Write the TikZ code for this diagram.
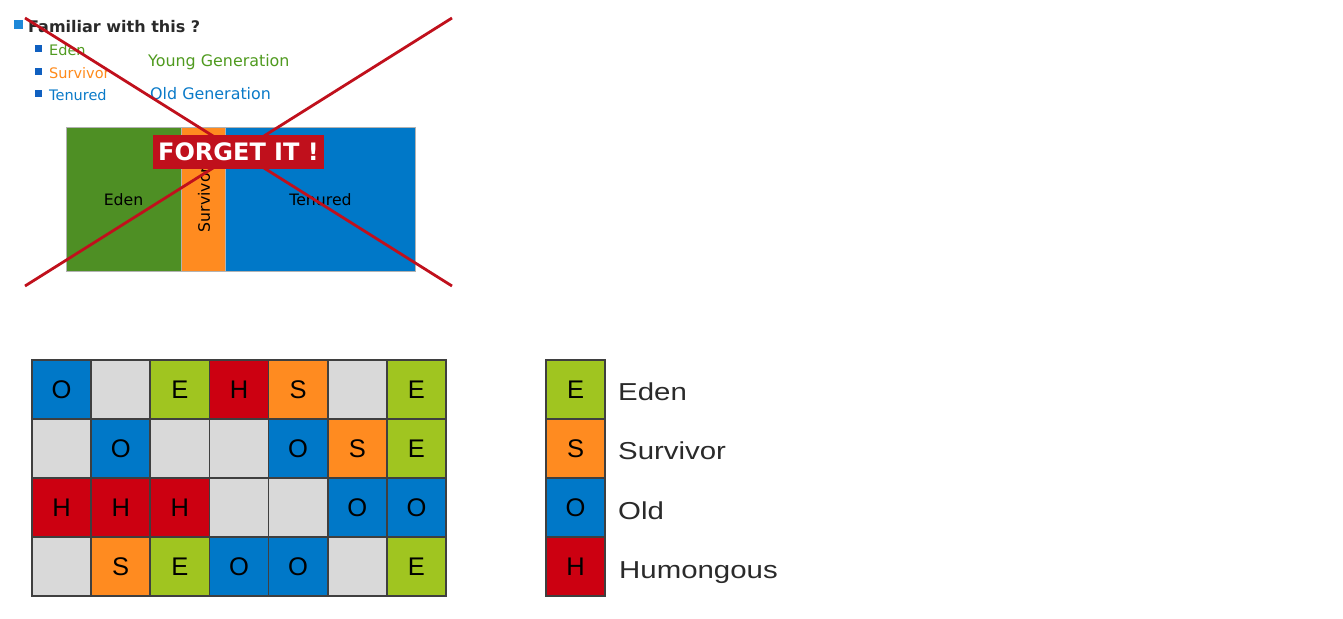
\documentclass[tikz,border=0pt]{standalone}
\usepackage{fontspec}
\setmainfont{DejaVu Sans}
\newfontfamily\lib{Liberation Sans}
\definecolor{cE}{HTML}{A0C520}
\definecolor{cS}{HTML}{FF8B20}
\definecolor{cO}{HTML}{0078C8}
\definecolor{cH}{HTML}{CC0011}
\definecolor{cN}{HTML}{D9D9D9}
\definecolor{tgreen}{HTML}{4E8F24}
\definecolor{ygreen}{HTML}{4F9A1F}
\definecolor{torange}{HTML}{FF8A1A}
\definecolor{tblue}{HTML}{0A7AC8}
\definecolor{bul}{HTML}{1060C0}
\definecolor{bultop}{HTML}{1E88D8}
\definecolor{xred}{HTML}{C0101C}
\definecolor{dark}{HTML}{2A2A2A}
\begin{document}
\begin{tikzpicture}[x=1pt,y=-1pt,
  cell/.style={draw=dark!90, line width=1.6pt, minimum width=59.14pt, minimum height=59pt, inner sep=0pt,
    font=\lib\fontsize{25.5}{25.5}\selectfont, text=black},
  cE/.style={cell, fill=cE}, cS/.style={cell, fill=cS}, cO/.style={cell, fill=cO},
  cH/.style={cell, fill=cH}, cN/.style={cell, fill=cN},
  leg/.style={anchor=base west, inner sep=0pt, font=\lib\fontsize{24.5}{24.5}\selectfont, text=dark},
  bullet/.style={fill=bul, minimum size=7pt, inner sep=0pt},
  sub/.style={anchor=base west, inner sep=0pt, font=\fontsize{14.5}{14.5}\selectfont},
  gen/.style={anchor=base west, inner sep=0pt, font=\fontsize{15.9}{16}\selectfont},
  region/.style={draw=gray!60, line width=0.5pt, inner sep=0pt, font=\fontsize{15.7}{16}\selectfont, text=black},
  xline/.style={draw=xred, line width=2.8pt}
]
\useasboundingbox (0,0) rectangle (1343,618);

% ---- top part ----
\node[fill=bultop, minimum size=9pt, inner sep=0pt] (b0) at (18.5,24.5) {};
\node[anchor=base west, inner sep=0pt, font=\bfseries\fontsize{16}{16}\selectfont, text=dark] (title) at (28,32.5) {Familiar with this ?};
\node[bullet] (b1) at (38.8,49) {};
\node[bullet] (b2) at (38.8,71.5) {};
\node[bullet] (b3) at (38.8,93.5) {};
\node[sub, text=ygreen] (teden) at (49,55.5) {Eden};
\node[sub, text=torange] (tsurv) at (49,78) {Survivor};
\node[sub, text=tblue] (tten) at (49,100) {Tenured};
\node[gen, text=ygreen] (young) at (148,66.5) {Young Generation};
\node[gen, text=tblue] (old) at (150,99.5) {Old Generation};

\node[region, fill=tgreen, minimum width=115pt, minimum height=144pt] (reden) at (123.5,199.5) {Eden};
\node[region, fill=cS, minimum width=44pt, minimum height=144pt] (rsurv) at (203,199) {};
\node[rotate=90, inner sep=0pt, font=\fontsize{15.7}{16}\selectfont] (lsurv) at (204,199.5) {Survivor};
\node[region, fill=cO, minimum width=190pt, minimum height=144pt] (rten) at (320,199) {};
\node[inner sep=0pt, font=\fontsize{15.7}{16}\selectfont] (lten) at (320.5,199.5) {Tenured};

\coordinate (x1) at (25,18);
\coordinate (x2) at (452,286);
\coordinate (x3) at (25,286);
\coordinate (x4) at (452,18);
\draw[xline] (x1) -- (x2);
\draw[xline] (x3) -- (x4);

\node[fill=xred, text=white, minimum width=171pt, minimum height=34pt, inner sep=0pt,
  font=\bfseries\fontsize{24}{24}\selectfont] (forget) at (238.5,152) {FORGET IT !};

% ---- region grid ----
\node[cO] (g11) at (61.57,389.5) {O};
\node[cN] (g12) at (120.71,389.5) {};
\node[cE] (g13) at (179.86,389.5) {E};
\node[cH] (g14) at (239,389.5) {H};
\node[cS] (g15) at (298.14,389.5) {S};
\node[cN] (g16) at (357.29,389.5) {};
\node[cE] (g17) at (416.43,389.5) {E};

\node[cN] (g21) at (61.57,448.5) {};
\node[cO] (g22) at (120.71,448.5) {O};
\node[cN] (g23) at (179.86,448.5) {};
\node[cN] (g24) at (239,448.5) {};
\node[cO] (g25) at (298.14,448.5) {O};
\node[cS] (g26) at (357.29,448.5) {S};
\node[cE] (g27) at (416.43,448.5) {E};

\node[cH] (g31) at (61.57,507.5) {H};
\node[cH] (g32) at (120.71,507.5) {H};
\node[cH] (g33) at (179.86,507.5) {H};
\node[cN] (g34) at (239,507.5) {};
\node[cN] (g35) at (298.14,507.5) {};
\node[cO] (g36) at (357.29,507.5) {O};
\node[cO] (g37) at (416.43,507.5) {O};

\node[cN] (g41) at (61.57,566.5) {};
\node[cS] (g42) at (120.71,566.5) {S};
\node[cE] (g43) at (179.86,566.5) {E};
\node[cO] (g44) at (239,566.5) {O};
\node[cO] (g45) at (298.14,566.5) {O};
\node[cN] (g46) at (357.29,566.5) {};
\node[cE] (g47) at (416.43,566.5) {E};

% ---- legend ----
\node[cE, minimum width=59pt] (le) at (575.5,389.5) {E};
\node[cS, minimum width=59pt] (ls) at (575.5,448.5) {S};
\node[cO, minimum width=59pt] (lo) at (575.5,507.5) {O};
\node[cH, minimum width=59pt] (lh) at (575.5,566.5) {H};
\node[leg] (lte) at (618,400) {\scalebox{1.2}[1]{Eden}};
\node[leg] (lts) at (618,459.5) {\scalebox{1.2}[1]{Survivor}};
\node[leg] (lto) at (618,519) {\scalebox{1.2}[1]{Old}};
\node[leg] (lth) at (619,578.5) {\scalebox{1.2}[1]{Humongous}};
\end{tikzpicture}
\end{document}
